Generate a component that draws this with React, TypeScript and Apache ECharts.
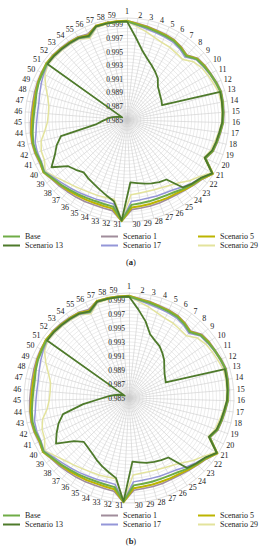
import React, { useEffect, useRef } from 'react';
import * as echarts from 'echarts';

const axisNames = ['1','2','3','4','5','6','7','8','9','10','11','12','13','14','15','16','17','18','19','20','21','22','23','24','25','26','27','28','29','30','31','32','33','34','35','36','37','38','39','40','41','42','43','44','45','46','47','48','49','50','51','52','53','54','55','56','57','58','59'];
const tickLabels = ['0.985','0.987','0.989','0.991','0.993','0.995','0.997','0.999'];
const axisMin = 0.985;
const axisMax = 1.0;

const seriesNames = ['Base', 'Scenario 1', 'Scenario 5', 'Scenario 13', 'Scenario 17', 'Scenario 29'];

const base = [0.9995,0.9991,0.9989,0.9987,0.9986,0.9985,0.9982,0.9978,0.9986,0.9988,0.9990,0.9992,0.9994,0.9993,0.9992,0.9991,0.9988,0.9986,0.9984,0.9978,0.9998,0.9989,0.9985,0.9981,0.9977,0.9975,0.9974,0.9974,0.9974,0.9975,0.9998,0.9979,0.9978,0.9978,0.9979,0.9981,0.9983,0.9986,0.9989,0.9994,0.9991,0.9992,0.9992,0.9990,0.9988,0.9987,0.9987,0.9989,0.9991,0.9992,0.9994,0.9993,0.9992,0.9991,0.9990,0.9985,0.9995,0.9995,0.9995];
const scenario1 = [0.9996,0.9993,0.9991,0.9989,0.9988,0.9987,0.9984,0.9980,0.9988,0.9990,0.9991,0.9993,0.9995,0.9994,0.9993,0.9992,0.9989,0.9987,0.9985,0.9979,0.9999,0.9991,0.9987,0.9984,0.9982,0.9981,0.9981,0.9981,0.9981,0.9982,0.9999,0.9985,0.9984,0.9984,0.9985,0.9986,0.9987,0.9989,0.9991,0.9995,0.9993,0.9994,0.9994,0.9993,0.9992,0.9991,0.9991,0.9992,0.9993,0.9994,0.9995,0.9995,0.9994,0.9993,0.9992,0.9989,0.9996,0.9996,0.9996];
const scenario5 = [0.9996,0.9992,0.9990,0.9988,0.9987,0.9986,0.9983,0.9979,0.9987,0.9989,0.9990,0.9992,0.9994,0.9993,0.9992,0.9991,0.9988,0.9986,0.9984,0.9978,0.9999,0.9990,0.9986,0.9983,0.9980,0.9979,0.9978,0.9978,0.9978,0.9979,0.9999,0.9982,0.9981,0.9981,0.9982,0.9983,0.9985,0.9987,0.9990,0.9995,0.9992,0.9993,0.9993,0.9992,0.9990,0.9989,0.9989,0.9990,0.9992,0.9993,0.9995,0.9994,0.9993,0.9992,0.9991,0.9987,0.9996,0.9996,0.9996];
const scenario17 = [0.9995,0.9990,0.9987,0.9985,0.9984,0.9983,0.9980,0.9976,0.9985,0.9987,0.9989,0.9991,0.9993,0.9993,0.9992,0.9990,0.9987,0.9985,0.9983,0.9977,0.9998,0.9988,0.9983,0.9978,0.9973,0.9971,0.9970,0.9969,0.9969,0.9970,0.9998,0.9975,0.9974,0.9975,0.9976,0.9978,0.9980,0.9983,0.9987,0.9993,0.9990,0.9990,0.9989,0.9985,0.9983,0.9982,0.9982,0.9984,0.9987,0.9990,0.9993,0.9992,0.9991,0.9990,0.9989,0.9984,0.9994,0.9995,0.9995];

const scenario13A = [0.9995,0.9972,0.9955,0.9945,0.9938,0.9932,0.9926,0.9917,0.9913,0.9910,0.9908,0.9906,0.9993,0.9992,0.9991,0.9990,0.9987,0.9985,0.9983,0.9977,0.9998,0.9988,0.9984,0.9979,0.9955,0.9953,0.9950,0.9947,0.9944,0.9942,0.9998,0.9971,0.9965,0.9960,0.9956,0.9953,0.9950,0.9955,0.9960,0.9981,0.9968,0.9960,0.9950,0.9895,0.9885,0.9878,0.9872,0.9866,0.9862,0.9858,0.9993,0.9993,0.9992,0.9991,0.9990,0.9986,0.9995,0.9995,0.9995];
const scenario29A = [0.9995,0.9988,0.9983,0.9978,0.9975,0.9974,0.9972,0.9971,0.9980,0.9984,0.9986,0.9988,0.9991,0.9991,0.9990,0.9989,0.9986,0.9983,0.9981,0.9976,0.9996,0.9985,0.9978,0.9970,0.9965,0.9962,0.9960,0.9959,0.9959,0.9960,0.9997,0.9968,0.9968,0.9969,0.9970,0.9972,0.9975,0.9979,0.9985,0.9992,0.9985,0.9984,0.9980,0.9972,0.9967,0.9966,0.9967,0.9972,0.9980,0.9988,0.9992,0.9991,0.9990,0.9989,0.9988,0.9982,0.9993,0.9994,0.9995];

const scenario13B = [0.9995,0.9977,0.9962,0.9946,0.9940,0.9936,0.9930,0.9924,0.9917,0.9912,0.9909,0.9907,0.9993,0.9992,0.9991,0.9990,0.9987,0.9985,0.9983,0.9977,0.9998,0.9988,0.9984,0.9980,0.9952,0.9950,0.9948,0.9946,0.9943,0.9941,0.9998,0.9966,0.9960,0.9955,0.9950,0.9945,0.9942,0.9940,0.9950,0.9973,0.9965,0.9957,0.9947,0.9916,0.9891,0.9880,0.9872,0.9866,0.9861,0.9857,0.9993,0.9993,0.9992,0.9991,0.9990,0.9986,0.9995,0.9995,0.9995];
const scenario29B = [0.9995,0.9988,0.9983,0.9978,0.9975,0.9974,0.9972,0.9971,0.9980,0.9984,0.9986,0.9988,0.9991,0.9991,0.9990,0.9989,0.9986,0.9983,0.9981,0.9976,0.9996,0.9985,0.9978,0.9970,0.9965,0.9962,0.9960,0.9959,0.9959,0.9960,0.9997,0.9967,0.9967,0.9968,0.9969,0.9971,0.9974,0.9978,0.9984,0.9992,0.9984,0.9982,0.9977,0.9968,0.9964,0.9963,0.9964,0.9970,0.9979,0.9988,0.9992,0.9991,0.9990,0.9989,0.9988,0.9982,0.9993,0.9994,0.9995];

const colors: Record<string, string> = {
  'Base': '#6fac46',
  'Scenario 1': '#a08c9b',
  'Scenario 5': '#bcb400',
  'Scenario 13': '#4e7a2b',
  'Scenario 17': '#9496d8',
  'Scenario 29': '#e3e39c',
};
const widths: Record<string, number> = {
  'Base': 2,
  'Scenario 1': 1.6,
  'Scenario 5': 2,
  'Scenario 13': 1.8,
  'Scenario 17': 1.5,
  'Scenario 29': 1.5,
};

const SERIF = '"Liberation Serif", "DejaVu Serif", serif';
const TEXT = '#222222';

// ECharts draws radar indicators counter-clockwise; reorder so that axis 1 is at the top and numbering runs clockwise
const cw = <T,>(arr: T[]): T[] => [arr[0], ...arr.slice(1).reverse()];

function radarConfig(center: [number, number], radius: number) {
  const names = cw(axisNames);
  return {
    center,
    radius,
    startAngle: 90,
    splitNumber: 30,
    shape: 'polygon',
    axisName: { color: TEXT, fontSize: 8, fontFamily: SERIF },
    nameGap: 3,
    splitLine: { lineStyle: { color: '#d8d8d8', width: 0.5 } },
    splitArea: { show: false },
    axisLine: { lineStyle: { color: '#cdcdcd', width: 0.6 } },
    axisTick: { show: false },
    axisLabel: { show: false },
    indicator: names.map((n, i) => {
      const ind: any = { name: n, min: axisMin, max: axisMax, color: TEXT };
      if (i === 0) {
        ind.axisLabel = {
          show: true,
          fontSize: 7.5,
          color: TEXT,
          fontFamily: SERIF,
          margin: 4,
          align: 'right',
          verticalAlign: 'middle',
          formatter: (v: number) => {
            const k = Math.round((v - axisMin) / 0.0005);
            return k % 4 === 0 && k / 4 < tickLabels.length ? tickLabels[k / 4] : '';
          },
        };
      }
      return ind;
    }),
  };
}

function makeSeries(radarIndex: number, dataMap: Record<string, number[]>) {
  const order = ['Scenario 29', 'Scenario 17', 'Scenario 1', 'Scenario 5', 'Base', 'Scenario 13'];
  return order.map((name) => ({
    type: 'radar',
    name,
    radarIndex,
    symbol: 'none',
    silent: true,
    z: 2,
    lineStyle: { color: colors[name], width: widths[name] },
    itemStyle: { color: colors[name] },
    data: [{ name, value: cw(dataMap[name]) }],
  }));
}

function legends(top: number) {
  const cols: [number, string[]][] = [
    [3, [seriesNames[0], seriesNames[3]]],
    [101, [seriesNames[1], seriesNames[4]]],
    [198, [seriesNames[2], seriesNames[5]]],
  ];
  return cols.map(([left, data]) => ({
    orient: 'vertical',
    left,
    top,
    padding: 0,
    itemGap: 0,
    itemWidth: 17,
    itemHeight: 2,
    icon: 'rect',
    selectedMode: false,
    data,
    textStyle: { fontSize: 8, fontFamily: SERIF, color: TEXT, lineHeight: 9 },
  }));
}

export default function App() {
  const ref = useRef<HTMLDivElement>(null);
  useEffect(() => {
    if (!ref.current) return;
    const chart = echarts.init(ref.current, null, { renderer: 'svg' });
    const mapA: Record<string, number[]> = {
      'Base': base, 'Scenario 1': scenario1, 'Scenario 5': scenario5,
      'Scenario 13': scenario13A, 'Scenario 17': scenario17, 'Scenario 29': scenario29A,
    };
    const mapB: Record<string, number[]> = {
      'Base': base, 'Scenario 1': scenario1, 'Scenario 5': scenario5,
      'Scenario 13': scenario13B, 'Scenario 17': scenario17, 'Scenario 29': scenario29B,
    };
    chart.setOption({
      animation: false,
      backgroundColor: '#ffffff',
      color: seriesNames.map((n) => colors[n]),
      radar: [radarConfig([127, 120], 102), radarConfig([129, 398], 105)],
      legend: [...legends(232), ...legends(511)],
      graphic: [
        {
          type: 'text', left: 'center', top: 257,
          style: { text: '({b|a})', fontSize: 8.5, fontFamily: SERIF, fill: TEXT, rich: { b: { fontWeight: 'bold', fontSize: 8.5, fontFamily: SERIF, fill: TEXT } } },
        },
        {
          type: 'text', left: 'center', top: 536,
          style: { text: '({b|b})', fontSize: 8.5, fontFamily: SERIF, fill: TEXT, rich: { b: { fontWeight: 'bold', fontSize: 8.5, fontFamily: SERIF, fill: TEXT } } },
        },
      ],
      series: [...makeSeries(0, mapA), ...makeSeries(1, mapB)],
    });
    return () => chart.dispose();
  }, []);
  return (
    <div
      ref={ref}
      style={{ position: 'absolute', left: 0, top: 0, width: 262, height: 550, background: '#fff' }}
    />
  );
}
